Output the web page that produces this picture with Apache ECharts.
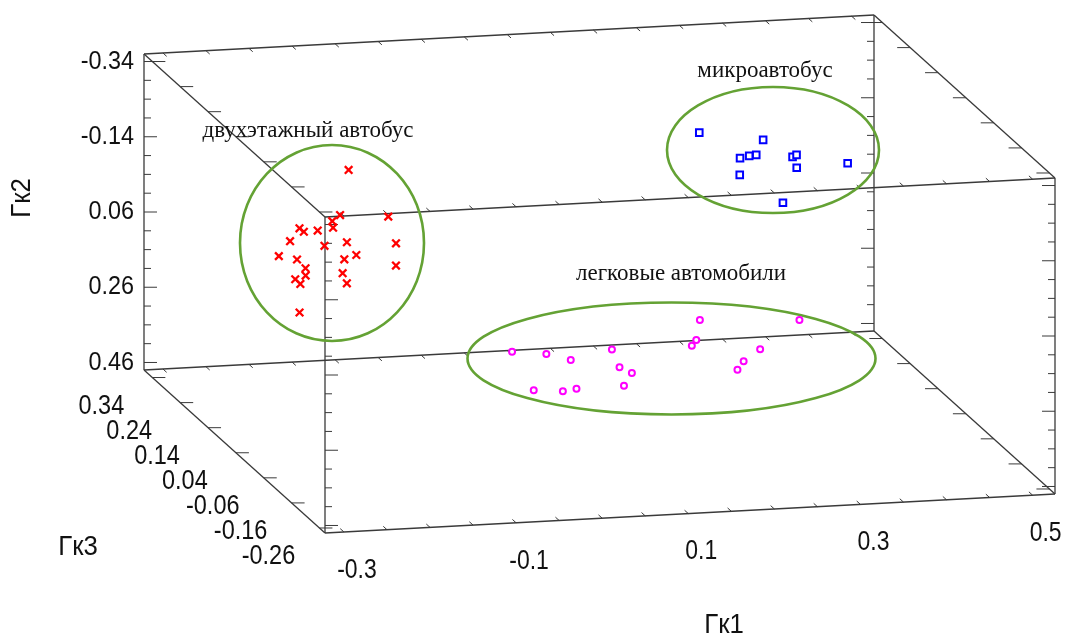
<!DOCTYPE html>
<html><head><meta charset="utf-8">
<script src="https://cdn.jsdelivr.net/npm/echarts@6/dist/echarts.min.js"></script>
<style>html,body{margin:0;padding:0;background:#fff}#c{width:1065px;height:637px}</style>
</head><body><div id="c"></div>
<script>
// ---- axis ranges (Gk2: top -> bottom, Gk3: back -> front) ----
const gk1Range = [-0.322, 0.526];
const gk2Range = [-0.36, 0.48];
const gk3Range = [0.37, -0.28];

// ---- ticks & tick labels ----
const gk1Ticks = [-0.3,-0.25,-0.2,-0.15,-0.1,-0.05,0,0.05,0.1,0.15,0.2,0.25,0.3,0.35,0.4,0.45,0.5];
const gk1Labels = ['-0.3','-0.1','0.1','0.3','0.5'];
const gk2Ticks = [-0.34,-0.29,-0.24,-0.19,-0.14,-0.09,-0.04,0.01,0.06,0.11,0.16,0.21,0.26,0.31,0.36,0.41,0.46];
const gk2Labels = ['-0.34','-0.14','0.06','0.26','0.46'];
const gk3Ticks = [0.34,0.24,0.14,0.04,-0.06,-0.16,-0.26];
const gk3Labels = ['0.34','0.24','0.14','0.04','-0.06','-0.16','-0.26'];

// ---- data: [Гк1, Гк2, Гк3] ----
const doubleDecker = [
  [-0.149,-0.164,0.17],[-0.146,-0.017,0.21],[-0.168,-0.030,0.17],[-0.180,-0.041,0.13],
  [-0.090,-0.006,0.21],[-0.219,-0.044,0.13],[-0.201,-0.006,0.17],[-0.172,0.021,0.21],
  [-0.217,0.017,0.17],[-0.190,0.006,0.13],[-0.151,0.028,0.17],[-0.081,0.066,0.21],
  [-0.243,0.027,0.13],[-0.196,0.095,0.21],[-0.153,0.035,0.13],[-0.154,0.073,0.17],
  [-0.094,0.097,0.17],[-0.212,0.063,0.13],[-0.186,0.139,0.21],[-0.211,0.119,0.17],
  [-0.218,0.104,0.13],[-0.143,0.138,0.21],[-0.164,0.109,0.13],[-0.206,0.208,0.17]
];
const minibus = [
  [0.226,-0.284,0.07],[0.284,-0.291,0.02],[0.241,-0.281,-0.03],[0.284,-0.215,0.07],
  [0.276,-0.252,0.02],[0.302,-0.277,-0.03],[0.339,-0.211,0.07],[0.323,-0.212,0.02],
  [0.366,-0.252,-0.03],[0.273,-0.166,0.07],[0.307,-0.121,0.02]
];
const cars = [
  [-0.040,0.166,-0.08],[0.016,0.212,-0.03],[0.012,0.161,-0.13],[0.076,0.174,-0.08],
  [0.101,0.258,-0.03],[0.083,0.204,-0.13],[0.090,0.272,-0.08],[-0.031,0.236,-0.13],
  [0.019,0.278,-0.08],[0.051,0.309,-0.03],[0.162,0.073,-0.13],[0.174,0.161,-0.08],
  [0.185,0.211,-0.03],[0.310,0.158,-0.03],[0.232,0.159,-0.13],[0.229,0.224,-0.08],
  [0.238,0.281,-0.03]
];

// ---- projection layout (oblique view of the 3D box onto the page plane) ----
const ORIGIN = [144, 370];      // Гк1 min, Гк2 bottom, Гк3 back
const E1 = [730, -39];          // along Гк1
const E2 = [0, -316];           // along Гк2 (upwards)
const E3 = [181, 163];          // along Гк3 (back -> front)
function project(p) {
  const t1 = (p[0] - gk1Range[0]) / (gk1Range[1] - gk1Range[0]);
  const t2 = (gk2Range[1] - p[1]) / (gk2Range[1] - gk2Range[0]);
  const t3 = (gk3Range[0] - p[2]) / (gk3Range[0] - gk3Range[1]);
  return [ORIGIN[0] + t1*E1[0] + t2*E2[0] + t3*E3[0],
          ORIGIN[1] + t1*E1[1] + t2*E2[1] + t3*E3[1]];
}

const SANS = '"Liberation Sans",Arial,sans-serif';
const SERIF = '"Liberation Serif","Times New Roman",serif';
const LINE = '#3a3a3a';

function boxRender(params, api) {
  const P = p => api.coord(project(p));
  const ch = [];
  const seg = (a, b, w) => ch.push({type:'line', shape:{x1:a[0],y1:a[1],x2:b[0],y2:b[1]},
    style:{stroke:LINE, lineWidth:w || 1.3}});
  const x0 = gk1Range[0], x1 = gk1Range[1], yT = gk2Range[0], yB = gk2Range[1], zB = gk3Range[0], zF = gk3Range[1];
  // 12 edges
  [[yB,zB],[yT,zB],[yB,zF],[yT,zF]].forEach(([y,z]) => seg(P([x0,y,z]), P([x1,y,z])));
  [[x0,zB],[x1,zB],[x0,zF],[x1,zF]].forEach(([x,z]) => seg(P([x,yB,z]), P([x,yT,z])));
  [[x0,yB],[x1,yB],[x0,yT],[x1,yT]].forEach(([x,y]) => seg(P([x,y,zB]), P([x,y,zF])));
  // Гк1 ticks (pointing in depth direction)
  const dl = Math.hypot(E3[0], E3[1]);
  const dz = [E3[0]/dl*5, E3[1]/dl*5];
  [[yB,zF,-1],[yT,zF,-1],[yT,zB,1],[yB,zB,1]].forEach(([y,z,s]) => {
    gk1Ticks.forEach(v => { const a = P([v,y,z]); seg(a, [a[0]+s*dz[0], a[1]+s*dz[1]], 1); });
  });
  // Гк2 ticks (horizontal, pointing inward)
  [[x0,zB,1],[x0,zF,1],[x1,zB,-1],[x1,zF,-1]].forEach(([x,z,s]) => {
    gk2Ticks.forEach(v => {
      const major = gk2Labels.indexOf(String(v)) >= 0;
      const a = P([x,v,z]); seg(a, [a[0]+s*(major?13:7), a[1]], 1);
    });
  });
  // Гк3 ticks
  [[x0,yB,1],[x0,yT,1],[x1,yB,-1],[x1,yT,-1]].forEach(([x,y,s]) => {
    gk3Ticks.forEach(v => { const a = P([x,y,v]); seg(a, [a[0]+s*13, a[1]], 1); });
  });
  // labels (narrowed sans)
  gk2Labels.forEach(l => { const a = P([x0, parseFloat(l), zB]);
    ch.push({type:'text', x:a[0]-10, y:a[1], scaleX:0.9,
      style:{text:l, font:'26px '+SANS, fill:'#111', align:'right', verticalAlign:'middle'}}); });
  gk3Labels.forEach(l => { const a = P([x0, yB, parseFloat(l)]);
    ch.push({type:'text', x:a[0]-51, y:a[1]+29, scaleX:0.87,
      style:{text:l, font:'27px '+SANS, fill:'#111', align:'center', verticalAlign:'middle'}}); });
  gk1Labels.forEach(l => { const a = P([parseFloat(l), yB, zF]);
    ch.push({type:'text', x:a[0]+13, y:a[1]+38, scaleX:0.82,
      style:{text:l, font:'28px '+SANS, fill:'#111', align:'center', verticalAlign:'middle'}}); });
  return {type:'group', children:ch};
}

function crossRender(params, api) {
  const c = api.coord([api.value(0), api.value(1)]);
  const r = 3.8, st = {stroke:'#ff0000', lineWidth:2.3};
  return {type:'group', children:[
    {type:'line', shape:{x1:c[0]-r,y1:c[1]-r,x2:c[0]+r,y2:c[1]+r}, style:st},
    {type:'line', shape:{x1:c[0]-r,y1:c[1]+r,x2:c[0]+r,y2:c[1]-r}, style:st}]};
}
function squareRender(params, api) {
  const c = api.coord([api.value(0), api.value(1)]);
  return {type:'rect', shape:{x:c[0]-3.3,y:c[1]-3.3,width:6.6,height:6.6}, style:{stroke:'#0000ff', fill:'#fff', lineWidth:2}};
}
function circleRender(params, api) {
  const c = api.coord([api.value(0), api.value(1)]);
  return {type:'circle', shape:{cx:c[0],cy:c[1],r:3}, style:{stroke:'#ff00ff', fill:'#fff', lineWidth:2}};
}

const chart = echarts.init(document.getElementById('c'), null, {renderer:'canvas'});
const GREEN = '#64a234';
chart.setOption({
  animation:false,
  backgroundColor:'#ffffff',
  grid:{left:0, right:0, top:0, bottom:0},
  xAxis:{type:'value', min:0, max:1065, show:false},
  yAxis:{type:'value', min:0, max:637, inverse:true, show:false},
  series:[
    {type:'custom', renderItem:boxRender, data:[[0,0]], z:1, silent:true},
    {type:'custom', name:'двухэтажный автобус', renderItem:crossRender, data:doubleDecker.map(project), z:6},
    {type:'custom', name:'микроавтобус', renderItem:squareRender, data:minibus.map(project), z:6},
    {type:'custom', name:'легковые автомобили', renderItem:circleRender, data:cars.map(project), z:6}
  ],
  graphic:[
    {type:'ellipse', shape:{cx:332, cy:243, rx:92, ry:98}, style:{stroke:GREEN, fill:null, lineWidth:2.6}, z:5},
    {type:'ellipse', shape:{cx:773, cy:150, rx:106, ry:63}, style:{stroke:GREEN, fill:null, lineWidth:2.6}, z:5},
    {type:'ellipse', shape:{cx:671.5, cy:358.5, rx:204, ry:56}, style:{stroke:GREEN, fill:null, lineWidth:2.6}, z:5},
    {type:'text', x:308, y:131, style:{text:'двухэтажный автобус', font:'23px '+SERIF, fill:'#111', align:'center', verticalAlign:'middle'}, z:7},
    {type:'text', x:765, y:71, style:{text:'микроавтобус', font:'23px '+SERIF, fill:'#111', align:'center', verticalAlign:'middle'}, z:7},
    {type:'text', x:681, y:274, style:{text:'легковые автомобили', font:'23px '+SERIF, fill:'#111', align:'center', verticalAlign:'middle'}, z:7},
    {type:'text', x:22, y:198, rotation:Math.PI/2, scaleX:0.92, style:{text:'Гк2', font:'28px '+SANS, fill:'#111', align:'center', verticalAlign:'middle'}, z:7},
    {type:'text', x:78, y:547, scaleX:0.92, style:{text:'Гк3', font:'28px '+SANS, fill:'#111', align:'center', verticalAlign:'middle'}, z:7},
    {type:'text', x:724, y:625, scaleX:0.92, style:{text:'Гк1', font:'28px '+SANS, fill:'#111', align:'center', verticalAlign:'middle'}, z:7}
  ]
});
</script></body></html>
